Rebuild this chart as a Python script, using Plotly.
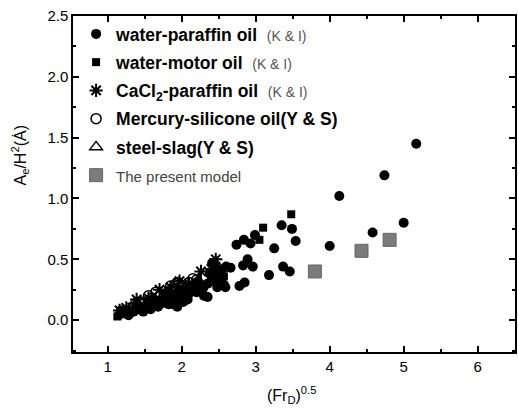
import plotly.graph_objects as go

# water-paraffin oil (K & I)
wp_x = [1.15, 1.2, 1.25, 1.3, 1.35, 1.4, 1.45, 1.5, 1.55, 1.6, 1.65, 1.7, 1.75, 1.8, 1.85, 1.9,
        1.94, 1.95, 2.0, 2.05, 2.1, 2.15, 2.2, 2.25, 2.3, 2.35, 2.35, 2.4, 2.41, 2.45, 2.48, 2.5,
        2.55, 2.57, 2.6,
        1.18, 1.28, 1.38, 1.48, 1.58, 1.68, 1.78, 1.88, 1.98, 2.08, 2.18, 2.28, 2.38, 2.44, 2.52,
        1.62, 1.82, 2.02, 2.22,
        2.59, 2.66, 2.74, 2.78, 2.83, 2.84, 2.85, 2.89, 2.93, 2.96, 2.99, 3.18, 3.25, 3.35, 3.37,
        3.46, 3.49, 3.54, 4.0, 4.13, 4.58, 4.74, 5.0, 5.17]
wp_y = [0.04, 0.06, 0.05, 0.08, 0.07, 0.09, 0.10, 0.10, 0.12, 0.13, 0.13, 0.16, 0.15, 0.18, 0.20, 0.17,
        0.11, 0.22, 0.20, 0.24, 0.22, 0.25, 0.23, 0.27, 0.20, 0.30, 0.19, 0.32, 0.47, 0.45, 0.27, 0.36,
        0.42, 0.29, 0.44,
        0.08, 0.04, 0.11, 0.07, 0.09, 0.11, 0.21, 0.13, 0.25, 0.17, 0.29, 0.25, 0.38, 0.40, 0.33,
        0.17, 0.13, 0.15, 0.32,
        0.27, 0.43, 0.62, 0.28, 0.45, 0.66, 0.31, 0.50, 0.63, 0.44, 0.70, 0.37, 0.59, 0.78, 0.44,
        0.40, 0.75, 0.65, 0.61, 1.02, 0.72, 1.19, 0.80, 1.45]

# water-motor oil (K & I)
wm_x = [1.13, 1.3, 1.6, 2.0, 2.3, 2.57, 3.05, 3.10, 3.48]
wm_y = [0.03, 0.06, 0.12, 0.20, 0.28, 0.36, 0.66, 0.76, 0.87]

# CaCl2-paraffin oil (K & I)
cc_x = [1.16, 1.25, 1.39, 1.55, 1.70, 1.85, 1.97, 2.1, 2.26, 2.4, 2.46]
cc_y = [0.08, 0.10, 0.17, 0.18, 0.25, 0.27, 0.32, 0.30, 0.40, 0.42, 0.50]

# Mercury-silicone oil (Y & S)
ms_x = [1.2, 1.3, 1.4, 1.45, 1.5, 1.6, 1.7, 1.75, 1.8, 1.9, 2.0, 2.05, 2.1, 2.2, 2.3,
        1.55, 1.65, 1.85, 1.95, 2.15]
ms_y = [0.07, 0.10, 0.12, 0.09, 0.15, 0.18, 0.20, 0.15, 0.22, 0.26, 0.28, 0.22, 0.31, 0.33, 0.36,
        0.20, 0.23, 0.28, 0.31, 0.34]

# steel-slag (Y & S)
ss_x = [1.25, 1.35, 1.4, 1.5, 1.65, 1.7, 1.8, 1.95, 2.1, 2.25, 1.45, 1.9]
ss_y = [0.07, 0.13, 0.09, 0.12, 0.16, 0.21, 0.19, 0.24, 0.27, 0.30, 0.15, 0.30]

# The present model
pm_x = [3.80, 4.43, 4.81]
pm_y = [0.40, 0.57, 0.66]

x_ticks = [1, 2, 3, 4, 5, 6]
y_ticks = [0.0, 0.5, 1.0, 1.5, 2.0, 2.5]

ki = "&nbsp;&nbsp;<span style='font-size:14px;color:#555'>(K &amp; I)</span>"

fig = go.Figure()
fig.add_trace(go.Scatter(x=wp_x, y=wp_y, mode="markers", legendgroup="a",
                         name="<b>water-paraffin oil</b>" + ki,
                         marker=dict(symbol="circle", size=10, color="black")))
fig.add_trace(go.Scatter(x=wm_x, y=wm_y, mode="markers", legendgroup="b",
                         name="<b>water-motor oil</b>" + ki,
                         marker=dict(symbol="square", size=8, color="black")))
fig.add_trace(go.Scatter(x=cc_x, y=cc_y, mode="markers", legendgroup="c",
                         name="<b>CaCl<sub>2</sub>-paraffin oil</b>" + ki,
                         marker=dict(symbol="asterisk-open", size=11, color="black",
                                     line=dict(width=2, color="black"))))
fig.add_trace(go.Scatter(x=ms_x, y=ms_y, mode="markers", legendgroup="d",
                         name="<b>Mercury-silicone oil(Y &amp; S)</b>",
                         marker=dict(symbol="circle-open", size=10, color="black",
                                     line=dict(width=1.5, color="black"))))
fig.add_trace(go.Scatter(x=ss_x, y=ss_y, mode="markers", legendgroup="e",
                         name="<b>steel-slag(Y &amp; S)</b>",
                         marker=dict(symbol="triangle-up-open", size=11, color="black",
                                     line=dict(width=1.5, color="black"))))
fig.add_trace(go.Scatter(x=pm_x, y=pm_y, mode="markers", legendgroup="f",
                         name="<span style='font-size:15px;color:#444'>The present model</span>",
                         marker=dict(symbol="square", size=13, color="#7b7b7b",
                                     line=dict(width=1, color="#666"))))

axis_common = dict(showline=True, linecolor="black", linewidth=1.5, mirror="allticks",
                   ticks="inside", ticklen=6, tickwidth=1.5, tickcolor="black",
                   showgrid=False, zeroline=False,
                   tickfont=dict(family="Liberation Sans, Arial", size=15, color="black"))

fig.update_xaxes(range=[0.53, 6.505], tickvals=x_ticks, ticktext=[str(v) for v in x_ticks],
                 minor=dict(ticks="inside", ticklen=3, tickwidth=1.5, tickcolor="black", dtick=0.5,
                            tick0=0.5, showgrid=False),
                 **axis_common)
fig.update_yaxes(range=[-0.262, 2.5], tickvals=y_ticks, ticktext=[f"{v:.1f}" for v in y_ticks],
                 minor=dict(ticks="inside", ticklen=3, tickwidth=1.5, tickcolor="black", dtick=0.25,
                            tick0=0, showgrid=False),
                 **axis_common)

fig.add_annotation(xref="paper", yref="paper", x=0.495, y=-0.128, yanchor="middle",
                   text="(Fr<sub>D</sub>)<sup>0.5</sup>", showarrow=False,
                   font=dict(family="Liberation Sans, Arial", size=16, color="black"))
fig.add_annotation(xref="paper", yref="paper", x=-0.119, y=0.586, xanchor="center", yanchor="middle",
                   text="A<sub>e</sub>/H<sup>2</sup>(Ȧ)", showarrow=False, textangle=-90,
                   font=dict(family="Liberation Sans, Arial", size=16, color="black"))

fig.update_layout(
    width=518, height=412,
    margin=dict(l=73, r=1, t=16, b=60),
    paper_bgcolor="white", plot_bgcolor="white",
    font=dict(family="Liberation Sans, Arial", size=17.5, color="black"),
    showlegend=True,
    legend=dict(x=0.007, y=1.0, xanchor="left", yanchor="top", bgcolor="rgba(0,0,0,0)",
                tracegroupgap=2.5, font=dict(size=17.5), itemsizing="trace"),
)

fig.write_html("out.html")
